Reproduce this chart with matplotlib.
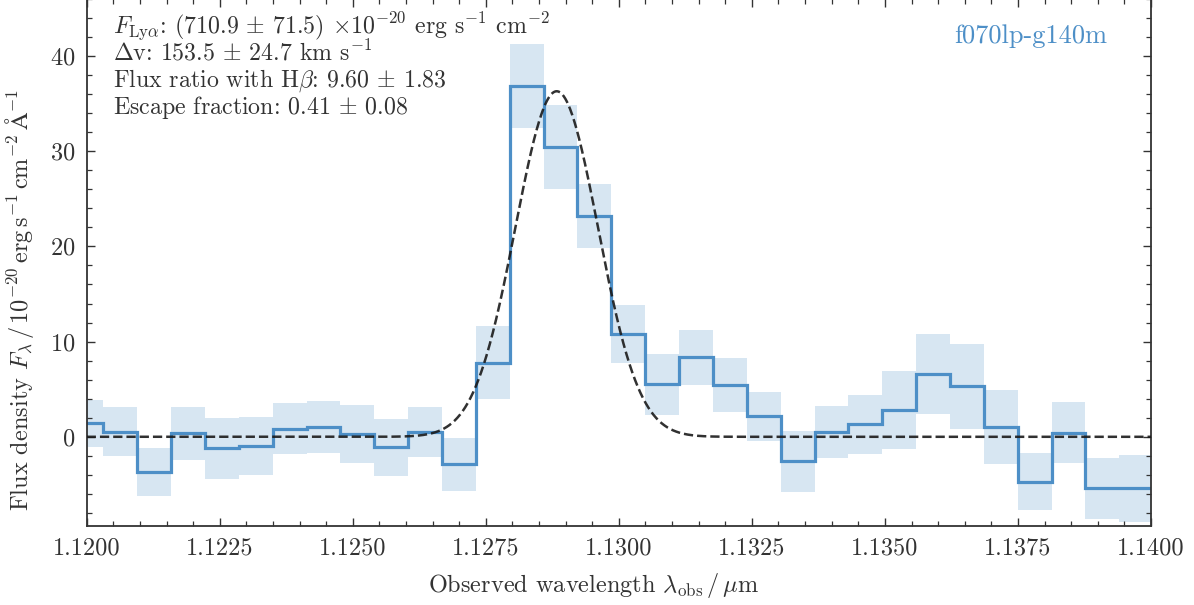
import numpy as np
import matplotlib
matplotlib.use("Agg")
import matplotlib.pyplot as plt
from matplotlib.ticker import MultipleLocator, FormatStrFormatter

plt.rcParams["font.family"] = ["cmr10", "DejaVu Serif"]
plt.rcParams["mathtext.fontset"] = "cm"
plt.rcParams["axes.unicode_minus"] = False
plt.rcParams["axes.formatter.use_mathtext"] = True

# Binned spectrum around Lyman-alpha (bin centres in micron, flux in 1e-20 cgs / Angstrom)
wavelength = [1.119994, 1.120630, 1.121267, 1.121903, 1.122540, 1.123176, 1.123813, 1.124449,
              1.125085, 1.125722, 1.126358, 1.126995, 1.127631, 1.128268, 1.128904, 1.129540,
              1.130177, 1.130813, 1.131450, 1.132086, 1.132722, 1.133359, 1.133995, 1.134632,
              1.135268, 1.135905, 1.136541, 1.137177, 1.137814, 1.138450, 1.139087, 1.139723]
flux = [1.4, 0.55, -3.7, 0.35, -1.2, -0.95, 0.85, 1.05,
        0.3, -1.1, 0.5, -2.9, 7.8, 36.85, 30.45, 23.2,
        10.8, 5.5, 8.35, 5.45, 2.15, -2.55, 0.5, 1.3,
        2.8, 6.55, 5.3, 1.05, -4.7, 0.45, -5.4, -5.4]
flux_err = [2.5, 2.6, 2.55, 2.8, 3.2, 3.05, 2.7, 2.75,
            3.05, 3.0, 2.6, 2.75, 3.8, 4.4, 4.4, 3.4,
            3.05, 3.2, 2.9, 2.8, 2.6, 3.2, 2.75, 3.1,
            4.1, 4.2, 4.5, 3.9, 3.0, 3.2, 3.2, 3.5]

# Gaussian line fit parameters
fit_amplitude = 36.3
fit_center = 1.128832
fit_sigma = 0.000775
fit_continuum = 0.0

info_lines = [
    r"$F_{\rm Ly\alpha}$: (710.9 $\pm$ 71.5) $\times 10^{-20}$ erg s$^{-1}$ cm$^{-2}$",
    r"$\Delta$v: 153.5 $\pm$ 24.7 km s$^{-1}$",
    r"Flux ratio with H$\beta$: 9.60 $\pm$ 1.83",
    r"Escape fraction: 0.41 $\pm$ 0.08",
]
grating_label = "f070lp-g140m"

blue = "#4d8fc7"
ink = "#333333"

wl = np.asarray(wavelength)
fl = np.asarray(flux)
er = np.asarray(flux_err)
mid = 0.5 * (wl[1:] + wl[:-1])
edges = np.concatenate([[wl[0] - (mid[0] - wl[0])], mid, [wl[-1] + (wl[-1] - mid[-1])]])

fig = plt.figure(figsize=(11.94, 6.05), dpi=100)
ax = fig.add_axes([0.0726, 0.1298, 0.8914, 0.8720])

ax.stairs(fl + er, edges, baseline=fl - er, fill=True, color=blue, alpha=0.22,
          linewidth=0, zorder=1)
ax.stairs(fl, edges, color=blue, linewidth=2.3, zorder=2)

xg = np.linspace(1.12, 1.14, 2000)
model = fit_continuum + fit_amplitude * np.exp(-0.5 * ((xg - fit_center) / fit_sigma) ** 2)
ax.plot(xg, model, ls="--", color="#1a1a1a", lw=1.8, alpha=0.9, zorder=3)

ax.set_xlim(1.12, 1.14)
ax.set_ylim(-9.42, 46.0)

ax.xaxis.set_major_locator(MultipleLocator(0.0025))
ax.xaxis.set_minor_locator(MultipleLocator(0.0005))
ax.xaxis.set_major_formatter(FormatStrFormatter("%.4f"))
ax.yaxis.set_major_locator(MultipleLocator(10))
ax.yaxis.set_minor_locator(MultipleLocator(2))
ax.tick_params(which="both", direction="in", top=True, right=True, colors=ink,
               labelcolor=ink, labelsize=17.5, pad=8)
ax.tick_params(which="major", length=6, width=1.0)
ax.tick_params(which="minor", length=3.5, width=0.9)
for s in ax.spines.values():
    s.set_color(ink)
    s.set_linewidth(1.3)

ax.set_xlabel(r"Observed wavelength $\lambda_{\rm obs}\,/\,\mu$m", fontsize=17.5, color=ink)
ax.xaxis.set_label_coords(0.476, -0.084)
ax.set_ylabel(r"Flux density $F_\lambda\,/\,10^{-20}\,{\rm erg\,s^{-1}\,cm^{-2}\,\AA^{-1}}$",
              fontsize=17.5, color=ink)
ax.yaxis.set_label_coords(-0.0475, 0.429)

line_y = [0.9354, 0.8842, 0.8330, 0.7818]
for txt, yy in zip(info_lines, line_y):
    ax.text(0.0247, yy, txt, transform=ax.transAxes, fontsize=17.2, color=ink,
            va="baseline", ha="left")

ax.text(0.959, 0.9164, grating_label, transform=ax.transAxes, fontsize=19, color=blue,
        va="baseline", ha="right")

fig.savefig("out.png", dpi=100)
